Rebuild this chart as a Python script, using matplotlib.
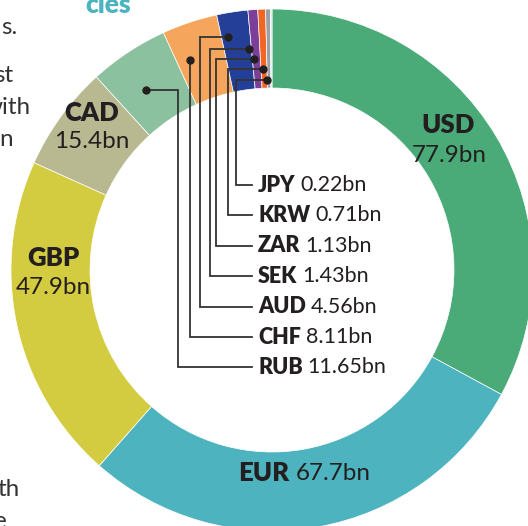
import numpy as np
import matplotlib
matplotlib.use("Agg")
import matplotlib.pyplot as plt

# values in bn, clockwise from 12 o'clock
currencies = ["USD", "EUR", "GBP", "CAD", "RUB", "CHF", "AUD", "SEK", "ZAR", "KRW", "JPY"]
values = [77.9, 67.7, 47.9, 15.4, 11.65, 8.11, 4.56, 1.43, 1.13, 0.71, 0.22]
value_labels = ["77.9bn", "67.7bn", "47.9bn", "15.4bn", "11.65bn", "8.11bn",
                "4.56bn", "1.43bn", "1.13bn", "0.71bn", "0.22bn"]
colors = ["#4aab78", "#4db3bf", "#d4cc40", "#b8b990", "#8cc19f", "#f5a65c",
          "#233f97", "#7b3f9a", "#f26522", "#9aa0a6", "#cfe3df"]

# small slices labelled with leader lines, top to bottom
leader_order = ["JPY", "KRW", "ZAR", "SEK", "AUD", "CHF", "RUB"]

plt.rcParams['font.family'] = ['Lato', 'DejaVu Sans']
dark = "#231f20"

W, H = 528, 526
fig = plt.figure(figsize=(W / 100, H / 100), dpi=100)
ax = fig.add_axes([0, 0, 1, 1])


def Y(y):
    # pixel row (top down) -> data y
    return H - y


cx, cy = 272, Y(270)
r_out, ring = 261, 79

ax.pie(values, colors=colors, startangle=90, counterclock=False,
       center=(cx, cy), radius=r_out,
       wedgeprops=dict(width=ring, edgecolor="white", linewidth=0.5))
ax.set_xlim(0, W)
ax.set_ylim(0, H)
ax.set_aspect("equal")
ax.axis("off")

fig.canvas.draw()
renderer = fig.canvas.get_renderer()

# big labels inside the ring
big = {
    "USD": (448, 125, 449, 155),
    "CAD": (92, 113, 92, 142),
    "GBP": (53, 258, 53, 287),
}
for cur, (x1, y1, x2, y2) in big.items():
    i = currencies.index(cur)
    ax.text(x1, Y(y1), cur, fontsize=18.5, fontweight="heavy", color=dark,
            ha="center", va="center")
    ax.text(x2, Y(y2), value_labels[i], fontsize=17.5, color=dark,
            ha="center", va="center")

i = currencies.index("EUR")
ax.text(289, Y(473), "EUR", fontsize=18.5, fontweight="heavy", color=dark,
        ha="right", va="center")
ax.text(296, Y(473), value_labels[i], fontsize=17.5, color=dark,
        ha="left", va="center")

# leader lines for the small slices
cum = np.cumsum([0] + values)
total = cum[-1]
dot_r = {"JPY": 190, "KRW": 201, "ZAR": 212, "SEK": 222, "AUD": 237, "CHF": 225, "RUB": 220}
dot_shift = {"JPY": -1.3, "KRW": -1.7, "ZAR": -2.6, "SEK": -1.7, "AUD": -1.9, "CHF": -2.9, "RUB": -1.6}
elbow_x = {"JPY": 236, "KRW": 228, "ZAR": 216, "SEK": 210, "AUD": 200, "CHF": None, "RUB": 178}
label_x, line_end = 258, 252
for k, cur in enumerate(leader_order):
    i = currencies.index(cur)
    mid = np.radians((cum[i] + values[i] / 2) / total * 360 + dot_shift[cur])
    dx = cx + dot_r[cur] * np.sin(mid)
    dy = cy + dot_r[cur] * np.cos(mid)
    ly = Y(185 + k * 30.4)
    ex = dx if elbow_x[cur] is None else elbow_x[cur]
    ax.plot([dx, ex, ex, line_end], [dy, dy, ly, ly], color="#333333", lw=1.3,
            solid_joinstyle="miter", zorder=3)
    ax.plot(dx, dy, "o", color=dark, ms=5, zorder=4)
    t = ax.text(label_x, ly, cur, fontsize=15.5, fontweight="heavy", color=dark,
                ha="left", va="center")
    bb = t.get_window_extent(renderer)
    x_end = ax.transData.inverted().transform((bb.x1, bb.y0))[0]
    ax.text(x_end + 5, ly, value_labels[i], fontsize=15.5, color=dark,
            ha="left", va="center")

# cut-off page text on the left
body = "#333333"
for txt, x, y in [("r.", 17, -6), ("s.", 17, 28), ("st", 13, 75), ("with", 31, 107),
                  ("n", 13, 140), ("th", 20, 490), ("e", 7, 522)]:
    ax.text(x, Y(y), txt, fontsize=17.5, color=body, ha="right", va="center")
ax.text(131, Y(13), "cles", fontsize=19, fontweight="heavy", color="#4db3bf",
        ha="right", va="baseline")

fig.savefig("out.png", dpi=100)
